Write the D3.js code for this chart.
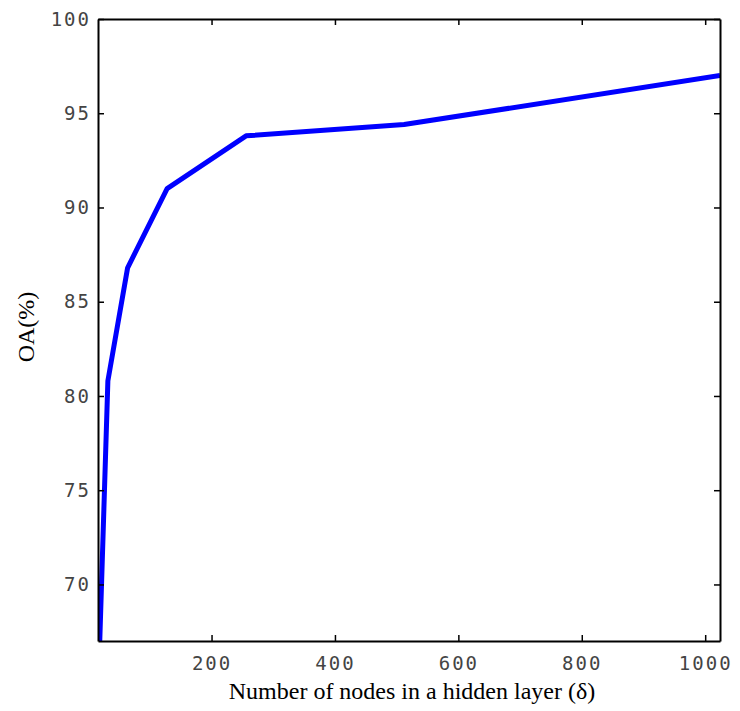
<!DOCTYPE html>
<html>
<head>
<meta charset="utf-8">
<script src="https://cdn.jsdelivr.net/npm/d3@7"></script>
<style>
  body { margin: 0; background: #fff; }
  .tick text { font-family: "DejaVu Sans Mono", "Liberation Mono", monospace; font-size: 19px; fill: #444; letter-spacing: 2px; }
  .lbl { font-family: "Liberation Serif", "Times New Roman", serif; font-size: 24px; fill: #000; }
</style>
</head>
<body>
<svg id="chart" width="740" height="711"></svg>
<script>
// data
var nodes = [16, 32, 64, 128, 256, 512, 1024];
var oa = [64.0, 80.8, 86.8, 91.0, 93.8, 94.4, 97.0];
var xTicks = [200, 400, 600, 800, 1000];
var yTicks = [70, 75, 80, 85, 90, 95, 100];

var margin = {top: 19, right: 20, bottom: 70, left: 98};
var width = 740 - margin.left - margin.right;
var height = 711 - margin.top - margin.bottom;

var svg = d3.select('#chart');
var g = svg.append('g').attr('transform', 'translate(' + margin.left + ',' + margin.top + ')');

var x = d3.scaleLinear().domain([16, 1024]).range([0, width]);
var y = d3.scaleLinear().domain([67, 100]).range([height, 0]);

g.append('clipPath').attr('id', 'clip')
  .append('rect').attr('width', width).attr('height', height);

var line = d3.line()
  .x(function(d, i) { return x(nodes[i]); })
  .y(function(d) { return y(d); });

g.append('path')
  .datum(oa)
  .attr('clip-path', 'url(#clip)')
  .attr('fill', 'none')
  .attr('stroke', '#0000ff')
  .attr('stroke-width', 5)
  .attr('stroke-linejoin', 'round')
  .attr('d', line);

// axes, ticks point inward on all four sides
var axBottom = g.append('g').attr('transform', 'translate(0,' + height + ')')
  .call(d3.axisBottom(x).tickValues(xTicks).tickFormat(d3.format('d')).tickSizeInner(-6).tickSizeOuter(0).tickPadding(16));
var axLeft = g.append('g')
  .call(d3.axisLeft(y).tickValues(yTicks).tickSizeInner(-6).tickSizeOuter(0).tickPadding(7));
var axTop = g.append('g')
  .call(d3.axisTop(x).tickValues(xTicks).tickSizeInner(-6).tickSizeOuter(0).tickFormat(''));
var axRight = g.append('g').attr('transform', 'translate(' + width + ',0)')
  .call(d3.axisRight(y).tickValues(yTicks).tickSizeInner(-6).tickSizeOuter(0).tickFormat(''));

[axBottom, axLeft, axTop, axRight].forEach(function(a) {
  a.select('.domain').attr('stroke', '#000').attr('stroke-width', 2);
  a.selectAll('.tick line').attr('stroke', '#000').attr('stroke-width', 1.5);
});

svg.append('text').attr('class', 'lbl')
  .attr('x', margin.left + width / 2 + 3)
  .attr('y', 699)
  .attr('text-anchor', 'middle')
  .text('Number of nodes in a hidden layer (\u03b4)');

svg.append('text').attr('class', 'lbl')
  .attr('transform', 'translate(34,327) rotate(-90)')
  .attr('text-anchor', 'middle')
  .text('OA(%)');
</script>
</body>
</html>
